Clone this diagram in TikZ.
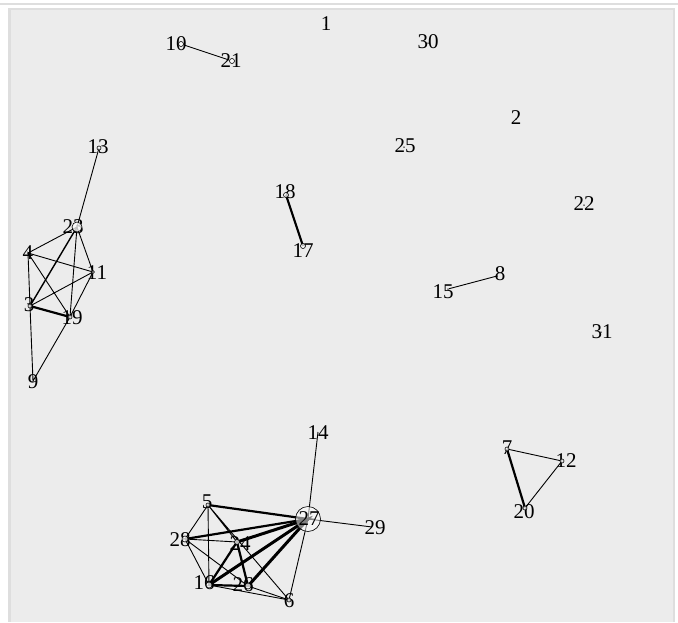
\documentclass[tikz,border=0pt]{standalone}
\usepackage{fontspec}
\setmainfont{Liberation Serif}
\definecolor{panel}{RGB}{236,236,236}
\definecolor{rim}{RGB}{222,222,222}
\begin{document}
\begin{tikzpicture}[x=1pt, y=-1pt,
        vtx/.style={circle, draw, fill=white, fill opacity=0.75, line width=0.6pt, inner sep=0pt, minimum size=6pt},
        dot/.style={circle, fill=black, inner sep=0pt, minimum size=1.5pt},
        big/.style={vtx, minimum size=25pt},
        mid/.style={vtx, minimum size=10pt},
        lbl/.style={inner sep=0pt, font=\fontsize{21}{21}\selectfont},
        edge/.style={line width=0.9pt},
        heavy/.style={line width=2.2pt},
        heavier/.style={line width=3pt}]
        \useasboundingbox (0,0) rectangle (678,622);
        \fill[white] (0,0) rectangle (678,622);
        \fill[rim] (0,3) rectangle (678,5);
        \fill[rim] (8,8) rectangle (675,622);
        \fill[panel] (11,10) rectangle (673,622);
        % isolated vertices
        \node[lbl] (l1) at (326,24) {1};
        \node[dot] (v1) at (326,25) {};
        \node[lbl] (l30) at (428,42) {30};
        \node[dot] (v30) at (428,43) {};
        \node[lbl] (l2) at (516,118) {2};
        \node[dot] (v2) at (516,119) {};
        \node[lbl] (l25) at (405,146) {25};
        \node[dot] (v25) at (404,147) {};
        \node[lbl] (l22) at (584,204) {22};
        \node[dot] (v22) at (584,205) {};
        \node[lbl] (l31) at (602,332) {31};
        \node[dot] (v31) at (601,332) {};
        % pairs
        \node[lbl] (l10) at (176,44) {10};
        \node[vtx, minimum size=5pt] (v10) at (181,44) {};
        \node[lbl] (l21) at (231,61) {21};
        \node[vtx, minimum size=5pt] (v21) at (232,61) {};
        \draw[edge] (v10) -- (v21);
        \node[lbl] (l18) at (285,192) {18};
        \node[lbl] (l17) at (303,251) {17};
        \draw[heavy] (286,195) -- (303,246);
        \node[vtx, minimum size=5pt] (v18) at (286,195) {};
        \node[vtx, minimum size=5pt] (v17) at (303,246) {};
        \node[lbl] (l15) at (443,292) {15};
        \node[lbl] (l8) at (500,274) {8};
        \node[dot] (v15) at (448,289) {};
        \node[dot] (v8) at (497,276) {};
        \draw[edge] (v15) -- (v8);
        % left group
        \coordinate (v13) at (99,148);
        \coordinate (v23) at (77,227);
        \coordinate (v4) at (28,253);
        \coordinate (v11) at (93,272);
        \coordinate (v3) at (30,306);
        \coordinate (v19) at (70,317);
        \coordinate (v9) at (33,381);
        \draw[edge] (v13) -- (v23) -- (v4) -- (v11) -- (v23) -- (v19) -- (v11) -- (v3) -- (v4) -- (v19);
        \draw[edge] (v3) -- (v9) -- (v19);
        \draw[line width=1.4pt] (v23) -- (v3);
        \draw[heavy] (v3) -- (v19);
        \node[lbl] at (98,147) {13};
        \node[lbl] at (73,227) {23};
        \node[lbl] at (28,253) {4};
        \node[lbl] at (97,273) {11};
        \node[lbl] at (29,305) {3};
        \node[lbl] at (72,318) {19};
        \node[lbl] at (33,382) {9};
        \node[vtx, minimum size=4pt] at (v13) {};
        \node[mid] at (v23) {};
        \node[vtx, minimum size=3pt] at (v11) {};
        \node[vtx, minimum size=4pt] at (v3) {};
        \node[vtx, minimum size=4pt] at (v19) {};
        % triangle
        \coordinate (v7) at (507,449);
        \coordinate (v12) at (562,461);
        \coordinate (v20) at (525,508);
        \draw[edge] (v7) -- (v12) -- (v20);
        \draw[heavy] (v7) -- (v20);
        \node[lbl] at (507,448) {7};
        \node[lbl] at (566,461) {12};
        \node[lbl] at (524,512) {20};
        \node[vtx, minimum size=4pt] at (v7) {};
        \node[vtx, minimum size=4pt] at (v12) {};
        \node[vtx, minimum size=4pt] at (v20) {};
        % bottom group
        \coordinate (v27) at (308,519);
        \coordinate (v14) at (318,432);
        \coordinate (v29) at (372,527);
        \coordinate (v5) at (208,505);
        \coordinate (v28) at (185,539);
        \coordinate (v24) at (237,542);
        \coordinate (v16) at (209,585);
        \coordinate (v26) at (248,586);
        \coordinate (v6) at (289,600);
        \draw[edge] (v14) -- (v27) -- (v29);
        \draw[edge] (v27) -- (v6) -- (v16);
        \draw[edge] (v26) -- (v6) -- (v5) -- (v28) -- (v16) -- (v5) -- (v24) -- (v28) -- (v26);
        \draw[heavy] (v5) -- (v27) -- (v28);
        \draw[heavy] (v24) -- (v16) -- (v26) -- (v24);
        \draw[heavier] (v24) -- (v27) -- (v26);
        \draw[heavier] (v16) -- (v27);
        \node[lbl] at (318,433) {14};
        \node[lbl] at (375,528) {29};
        \node[lbl] at (207,502) {5};
        \node[lbl] at (180,540) {28};
        \node[lbl] at (240,544) {24};
        \node[lbl] at (204,583) {16};
        \node[lbl] at (243,585) {26};
        \node[lbl] at (289,601) {6};
        \node[vtx, minimum size=4pt] at (v5) {};
        \node[vtx] at (v28) {};
        \node[vtx, minimum size=5pt] at (v24) {};
        \node[vtx] at (v16) {};
        \node[vtx] at (v26) {};
        \node[vtx, minimum size=4pt] at (v6) {};
        \node[big, fill opacity=0.5] at (v27) {};
        \node[lbl] at (309,519) {27};
\end{tikzpicture}
\end{document}
